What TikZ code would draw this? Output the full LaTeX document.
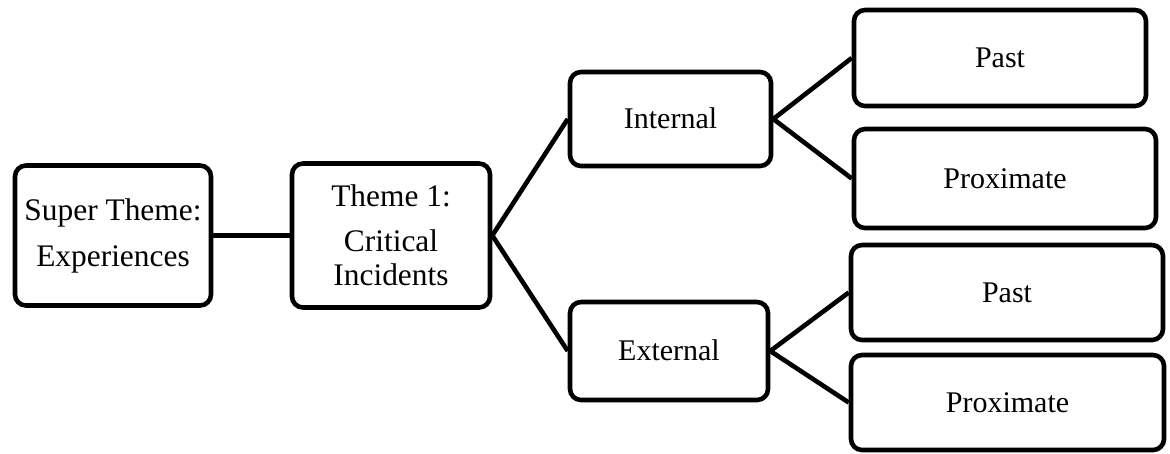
\documentclass[tikz,border=0pt]{standalone}
\usepackage{fontspec}
\setmainfont{Liberation Serif}
\begin{document}
\begin{tikzpicture}[x=1pt,y=-1pt,
  box/.style={draw=black, line width=4.6pt, rounded corners=11pt, fill=white,
    inner sep=0pt, align=center, font=\fontsize{30}{33}\selectfont},
  onebox/.style={box, text height=19.9pt, text depth=0pt},
  link/.style={draw=black, line width=4.6pt}]
\useasboundingbox (0,0) rectangle (1170,453);
\node[box, minimum width=196pt, minimum height=140pt, font=\fontsize{31.4}{34}\selectfont] (super) at (113,235.5) {Super Theme:\\[12pt]Experiences};
\node[box, minimum width=198pt, minimum height=144pt, font=\fontsize{31.4}{34}\selectfont] (theme) at (391,235.5) {Theme 1:\\[11pt]Critical\\Incidents};
\node[onebox, minimum width=201pt, minimum height=94pt] (int) at (670.5,119) {Internal};
\node[onebox, minimum width=198pt, minimum height=98pt] (ext) at (669,351) {External};
\node[onebox, minimum width=292pt, minimum height=96pt] (past1) at (1000,58) {Past};
\node[onebox, minimum width=302pt, minimum height=99pt] (prox1) at (1005,178.5) {Proximate};
\node[onebox, minimum width=312pt, minimum height=95pt] (past2) at (1007,292.5) {Past};
\node[onebox, minimum width=313pt, minimum height=95pt] (prox2) at (1007.5,402.5) {Proximate};
\draw[link] (super.east) -- (theme.west);
\draw[link] (theme.east) -- (int.west);
\draw[link] (theme.east) -- (ext.west);
\draw[link] (int.east) -- (past1.west);
\draw[link] (int.east) -- (prox1.west);
\draw[link] (ext.east) -- (past2.west);
\draw[link] (ext.east) -- (prox2.west);
\end{tikzpicture}
\end{document}
